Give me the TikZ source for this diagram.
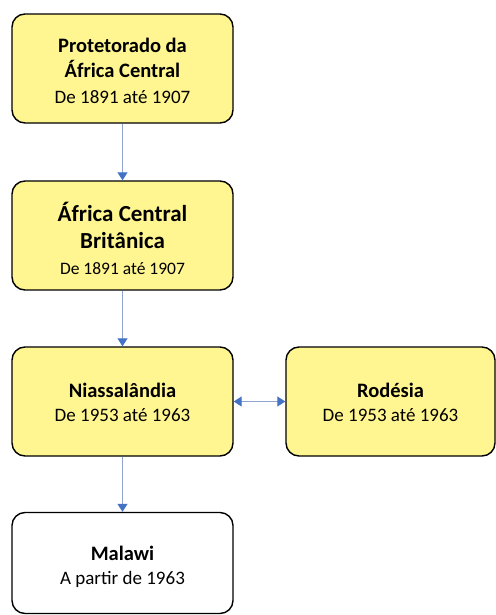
\documentclass[tikz,border=0pt]{standalone}
\usepackage{fontspec}
\setmainfont{Carlito}
\usetikzlibrary{arrows.meta}
\definecolor{boxyellow}{HTML}{FFF691}
\definecolor{linecol}{HTML}{8FA3CC}
\definecolor{headcol}{HTML}{4472C4}
\newcommand{\ttl}[1]{\textbf{\fontsize{20.5}{25}\selectfont #1}}
\newcommand{\dte}[1]{{\fontsize{19}{24}\selectfont #1}}
\tikzset{
  stagebox/.style={draw=black, line width=1.4pt, rounded corners=13pt, fill=boxyellow, inner sep=0pt, align=center},
  whitebox/.style={stagebox, fill=white},
  boxtext/.style={align=center, inner sep=0pt},
  flowarrow/.style={draw=linecol, line width=1.2pt, -{Triangle[width=10pt,length=8pt,color=headcol]}},
  biarrow/.style={draw=linecol, line width=1.2pt, {Triangle[width=10pt,length=8pt,color=headcol]}-{Triangle[width=10pt,length=8pt,color=headcol]}}
}
\begin{document}
\begin{tikzpicture}[x=1pt,y=-1pt]
\useasboundingbox (0,0) rectangle (495,615);
\node[stagebox, minimum width=221pt, minimum height=109pt] (b1) at (122.5,68.5) {};
\node[boxtext, font=\fontsize{20.5}{25.5}\selectfont] (t1) at ([yshift=-2pt]b1.center) {\ttl{Protetorado da}\\\ttl{África Central}\\\dte{De 1891 até 1907}};
\node[stagebox, minimum width=221pt, minimum height=109pt] (b2) at (122.5,235.5) {};
\node[boxtext, font=\fontsize{23}{26.5}\selectfont] (t2) at ([yshift=-3pt]b2.center) {\textbf{\fontsize{23}{26.5}\selectfont África Central}\\\textbf{\fontsize{23}{26.5}\selectfont Britânica}\\{\fontsize{17.5}{22}\selectfont De 1891 até 1907}};
\node[stagebox, minimum width=221pt, minimum height=109pt] (b3) at (122.5,401.5) {};
\node[boxtext, font=\fontsize{20.5}{23.5}\selectfont] (t3) at ([yshift=-1pt]b3.center) {\ttl{Niassalândia}\\\dte{De 1953 até 1963}};
\node[stagebox, minimum width=209pt, minimum height=109pt] (r) at (390.5,401.5) {};
\node[boxtext, font=\fontsize{20.5}{23.5}\selectfont] (t4) at ([yshift=-1pt]r.center) {\ttl{Rodésia}\\\dte{De 1953 até 1963}};
\node[whitebox, minimum width=221pt, minimum height=101pt] (m) at (122.5,563) {};
\node[boxtext, font=\fontsize{20.5}{23.5}\selectfont] (t5) at ([yshift=-4pt]m.center) {\ttl{Malawi}\\\dte{A partir de 1963}};
\draw[flowarrow] (b1) -- (b2);
\draw[flowarrow] (b2) -- (b3);
\draw[flowarrow] (b3) -- (m);
\draw[biarrow] (b3) -- (r);
\end{tikzpicture}
\end{document}
